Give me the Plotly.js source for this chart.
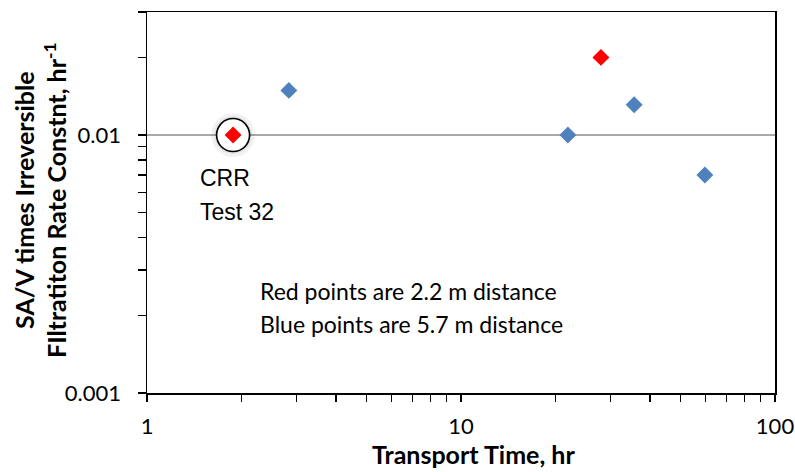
<!DOCTYPE html>
<html>
<head>
<meta charset="utf-8">
<script src="https://cdn.plot.ly/plotly-3.0.1.min.js"></script>
<style>html,body{margin:0;padding:0;background:#fff;}#chart{width:795px;height:472px;}</style>
</head>
<body>
<div id="chart"></div>
<script>
// Data
const redTime = [1.88, 27.9];          // Transport time, hr (2.2 m distance)
const redRate = [0.0100, 0.0200];      // SA/V x irreversible filtration rate constant, 1/hr
const blueTime = [2.83, 21.9, 35.6, 59.8]; // 5.7 m distance
const blueRate = [0.0149, 0.0100, 0.0131, 0.0070];

// Highlighted point (CRR Test 32) = first red point
const calloutTime = [redTime[0]];
const calloutRate = [redRate[0]];

// Axis ticks
const xTickVals = [1,2,3,4,5,6,7,8,9,10,20,30,40,50,60,70,80,90,100];
const xTickText = ['1','','','','','','','','','10','','','','','','','','','100'];
const yTickVals = [0.001,0.002,0.003,0.004,0.005,0.006,0.007,0.008,0.009,0.01,0.02,0.03];
const yTickText = ['0.001','','','','','','','','','0.01','',''];
const xRange = [1, 100];
const yRange = [0.001, 0.03];
const gridVals = [0.01];

// Texts
const xTitle = 'Transport Time, hr';
const yTitleLines = ['SA/V times Irreversible', 'FIltratiton Rate Constnt, hr<sup>-1</sup>'];
const noteLines = ['Red points are 2.2 m distance', 'Blue points are 5.7 m distance'];
const calloutLines = ['CRR', 'Test 32'];

const calibri = 'Lato, "Open Sans", sans-serif';
const arial = '"Liberation Sans", Arial, sans-serif';

const traces = [
  {x: calloutTime, y: calloutRate, type: 'scatter', mode: 'markers', hoverinfo: 'skip',
   marker: {symbol: 'circle', size: 44, color: 'rgba(0,0,0,0.05)', line: {width: 0}}},
  {x: calloutTime, y: calloutRate, type: 'scatter', mode: 'markers', hoverinfo: 'skip',
   marker: {symbol: 'circle', size: 38, color: 'rgba(0,0,0,0.06)', line: {width: 0}}},
  {x: calloutTime, y: calloutRate, type: 'scatter', mode: 'markers', hoverinfo: 'skip',
   marker: {symbol: 'circle', size: 33, color: '#ffffff', line: {color: '#000', width: 1.6}}},
  {x: blueTime, y: blueRate, type: 'scatter', mode: 'markers', name: '5.7 m',
   marker: {symbol: 'diamond', size: 13, color: '#4F81BD'}},
  {x: redTime, y: redRate, type: 'scatter', mode: 'markers', name: '2.2 m',
   marker: {symbol: 'diamond', size: 13, color: '#FF0000'}}
];

const shapes = gridVals.map(v => ({
  type: 'line', xref: 'paper', x0: 0, x1: 1, yref: 'y', y0: v, y1: v,
  line: {color: '#8c8c8c', width: 1.5}, layer: 'below'
}));

const annotations = [
  {xref: 'paper', yref: 'paper', x: -0.1696, y: 0.5, yshift: 3, textangle: -90,
   text: '<b>' + yTitleLines.join('<br>') + '</b>', showarrow: false,
   xanchor: 'center', yanchor: 'middle', font: {family: calibri, size: 25, color: '#000'}},
  {xref: 'paper', yref: 'paper', x: 0.52, y: -0.160, text: '<b>' + xTitle + '</b>', showarrow: false,
   xanchor: 'center', yanchor: 'middle', font: {family: calibri, size: 25, color: '#000'}},
  {xref: 'x', yref: 'y', x: Math.log10(calloutTime[0]), y: Math.log10(calloutRate[0]), text: calloutLines[0],
   showarrow: false, xanchor: 'left', yanchor: 'middle', xshift: -35, yshift: -43,
   font: {family: arial, size: 23, color: '#000'}},
  {xref: 'x', yref: 'y', x: Math.log10(calloutTime[0]), y: Math.log10(calloutRate[0]), text: calloutLines[1],
   showarrow: false, xanchor: 'left', yanchor: 'middle', xshift: -35, yshift: -77,
   font: {family: arial, size: 23, color: '#000'}},
  {xref: 'paper', yref: 'paper', x: 0.177, y: 0.268, text: noteLines[0], showarrow: false,
   xanchor: 'left', yanchor: 'middle', font: {family: calibri, size: 23, color: '#000'}},
  {xref: 'paper', yref: 'paper', x: 0.177, y: 0.181, text: noteLines[1], showarrow: false,
   xanchor: 'left', yanchor: 'middle', font: {family: calibri, size: 23, color: '#000'}}
];

const layout = {
  width: 795, height: 472,
  margin: {l: 147, r: 20, t: 12, b: 79},
  paper_bgcolor: '#fff', plot_bgcolor: '#fff',
  showlegend: false,
  xaxis: {
    type: 'log', range: xRange.map(Math.log10), tickmode: 'array',
    tickvals: xTickVals, ticktext: xTickText, ticks: 'outside', ticklen: 7, tickwidth: 1.2, tickcolor: '#000',
    ticklabelstandoff: 6,
    showgrid: false, zeroline: false, showline: true, linecolor: '#000', linewidth: 1.5, mirror: true,
    tickfont: {family: calibri, size: 22, color: '#000'}
  },
  yaxis: {
    type: 'log', range: yRange.map(Math.log10), tickmode: 'array',
    tickvals: yTickVals, ticktext: yTickText, ticks: 'outside', ticklen: 8, tickwidth: 1.2, tickcolor: '#000',
    ticklabelstandoff: 12,
    showgrid: false, zeroline: false, showline: true, linecolor: '#000', linewidth: 1.5, mirror: true,
    tickfont: {family: calibri, size: 22, color: '#000'}
  },
  shapes: shapes,
  annotations: annotations
};

Plotly.newPlot('chart', traces, layout, {displayModeBar: false, staticPlot: true});
</script>
</body>
</html>
